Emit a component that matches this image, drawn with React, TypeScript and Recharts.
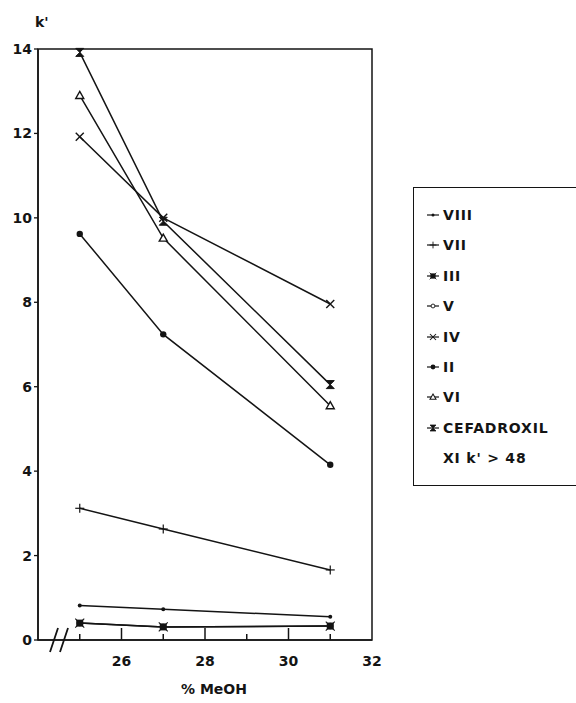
import React from "react";
import { LineChart, Line, XAxis, YAxis, ReferenceArea } from "recharts";

const meohPercent = [25, 27, 31];
const seriesNames = ["VIII", "VII", "III", "V", "IV", "II", "VI", "CEFADROXIL"];
const drawOrder = ["V", "VIII", "VII", "III", "IV", "II", "VI", "CEFADROXIL"];
const viii = [0.82, 0.73, 0.55];
const vii = [3.12, 2.63, 1.66];
const iii = [0.4, 0.31, 0.33];
const v = [0.4, 0.31, 0.33];
const iv = [11.92, 10.0, 7.96];
const ii = [9.62, 7.24, 4.15];
const vi = [12.9, 9.52, 5.55];
const cefadroxil = [13.92, 9.92, 6.05];
const yTicks = [0, 2, 4, 6, 8, 10, 12, 14];
const xTicks = [25, 26, 27, 28, 29, 30, 31, 32];
const xLabelTicks = [26, 28, 30, 32];
const legendNote = "XI k' > 48";

const seriesValues: Record<string, number[]> = {
  VIII: viii,
  VII: vii,
  III: iii,
  V: v,
  IV: iv,
  II: ii,
  VI: vi,
  CEFADROXIL: cefadroxil,
};

const data = meohPercent.map((x, i) => {
  const row: Record<string, number> = { x };
  seriesNames.forEach((n) => (row[n] = seriesValues[n][i]));
  return row;
});

const INK = "#141414";
const FONT = "'DejaVu Sans', 'Liberation Sans', sans-serif";

function Marker({ kind, cx, cy }: { kind: string; cx: number; cy: number }) {
  if (cx == null || cy == null) return null;
  switch (kind) {
    case "VIII":
      return <circle cx={cx} cy={cy} r={2} fill={INK} />;
    case "VII":
      return (
        <g stroke={INK} strokeWidth={1.2}>
          <line x1={cx - 4.5} y1={cy} x2={cx + 4.5} y2={cy} />
          <line x1={cx} y1={cy - 4.5} x2={cx} y2={cy + 4.5} />
        </g>
      );
    case "III":
      return (
        <g>
          <rect x={cx - 3.5} y={cy - 3.5} width={7} height={7} fill={INK} />
          <g stroke={INK} strokeWidth={1.1}>
            <line x1={cx - 4.5} y1={cy - 4.5} x2={cx + 4.5} y2={cy + 4.5} />
            <line x1={cx - 4.5} y1={cy + 4.5} x2={cx + 4.5} y2={cy - 4.5} />
          </g>
        </g>
      );
    case "V":
      return <circle cx={cx} cy={cy} r={2.6} fill="#fff" stroke={INK} strokeWidth={1.2} />;
    case "IV":
      return (
        <g stroke={INK} strokeWidth={1.4}>
          <line x1={cx - 4} y1={cy - 4} x2={cx + 4} y2={cy + 4} />
          <line x1={cx - 4} y1={cy + 4} x2={cx + 4} y2={cy - 4} />
        </g>
      );
    case "II":
      return <circle cx={cx} cy={cy} r={3.2} fill={INK} />;
    case "VI":
      return (
        <path
          d={`M${cx},${cy - 4} L${cx + 4},${cy + 3} L${cx - 4},${cy + 3} Z`}
          fill="#fff"
          stroke={INK}
          strokeWidth={1.4}
        />
      );
    case "CEFADROXIL":
      return (
        <path
          d={`M${cx - 4},${cy - 4} L${cx + 4},${cy - 4} L${cx - 4},${cy + 4} L${cx + 4},${cy + 4} Z`}
          fill={INK}
          stroke={INK}
          strokeWidth={1}
        />
      );
    default:
      return null;
  }
}

function XTick(props: any) {
  const { x, y, payload } = props;
  const val = payload.value as number;
  const major = xLabelTicks.includes(val);
  const len = major ? 12 : 6;
  return (
    <g>
      {val < 32 && (
        <path d={`M${x},${y}V${y - len}`} style={{ stroke: INK, strokeWidth: 1.5 }} fill="none" />
      )}
      {major && (
        <text
          x={x}
          y={y + 21}
          dy="0.355em"
          textAnchor="middle"
          fontFamily={FONT}
          fontWeight="bold"
          fontSize={14}
          fill={INK}
        >
          {val}
        </text>
      )}
    </g>
  );
}

export default function App() {
  return (
    <div
      style={{
        position: "absolute",
        left: 0,
        top: 0,
        width: 576,
        height: 703,
        overflow: "hidden",
        background: "#fff",
      }}
    >
      <LineChart
        width={576}
        height={703}
        data={data}
        margin={{ top: 49, right: 204, bottom: 0, left: 0 }}
      >
        <ReferenceArea
          x1={24}
          x2={32}
          y1={0}
          y2={14}
          fill="none"
          stroke={INK}
          strokeWidth={1.5}
          ifOverflow="visible"
        />
        <XAxis
          type="number"
          dataKey="x"
          domain={[24, 32]}
          ticks={xTicks}
          height={63}
          tickSize={0}
          tickMargin={0}
          tickLine={false}
          axisLine={{ stroke: INK, strokeWidth: 1.5 }}
          tick={<XTick />}
          interval={0}
          allowDataOverflow
          label={{
            content: () => (
              <text
                x={214}
                y={694}
                textAnchor="middle"
                fontFamily={FONT}
                fontWeight="bold"
                fontSize={14}
                fill={INK}
              >
                % MeOH
              </text>
            ),
          }}
        />
        <YAxis
          type="number"
          domain={[0, 14]}
          ticks={yTicks}
          width={38}
          tickSize={4}
          tickMargin={2}
          interval={0}
          axisLine={{ stroke: INK, strokeWidth: 1.5 }}
          tickLine={{ stroke: INK, strokeWidth: 1.3 }}
          tick={{ fontFamily: FONT, fontWeight: "bold", fontSize: 14, fill: INK }}
          label={{
            content: () => (
              <text
                x={35}
                y={27}
                fontFamily={FONT}
                fontWeight="bold"
                fontSize={14}
                fill={INK}
              >
                k'
              </text>
            ),
          }}
        />
        {drawOrder.map((name) => (
          <Line
            key={name}
            dataKey={name}
            name={name}
            stroke={INK}
            strokeWidth={1.5}
            isAnimationActive={false}
            type="linear"
            dot={(p: any) => <Marker key={`${name}-${p.index}`} kind={name} cx={p.cx} cy={p.cy} />}
            activeDot={false}
          />
        ))}
      </LineChart>

      <svg
        width={576}
        height={703}
        style={{ position: "absolute", left: 0, top: 0, pointerEvents: "none" }}
      >
        <line x1={50} y1={652} x2={58} y2={628} stroke={INK} strokeWidth={1.8} />
        <line x1={60} y1={652} x2={68} y2={628} stroke={INK} strokeWidth={1.8} />
      </svg>

      <div
        style={{
          position: "absolute",
          left: 413,
          top: 187,
          width: 190,
          height: 299,
          border: `1.5px solid ${INK}`,
          boxSizing: "border-box",
          fontFamily: FONT,
          fontWeight: "bold",
          fontSize: 14,
          letterSpacing: 0.8,
          color: INK,
        }}
      >
        {seriesNames.map((name, i) => (
          <div
            key={name}
            style={{
              position: "absolute",
              left: 12,
              top: 27 - 12 + i * 30.4,
              height: 24,
              display: "flex",
              alignItems: "center",
              whiteSpace: "nowrap",
            }}
          >
            <svg width={15} height={24} style={{ marginRight: 2 }}>
              <line x1={1} y1={12} x2={13} y2={12} stroke={INK} strokeWidth={1.2} />
              <g transform="translate(7,12) scale(0.75) translate(-7,-12)">
                <Marker kind={name} cx={7} cy={12} />
              </g>
            </svg>
            <span>{name}</span>
          </div>
        ))}
        <div
          style={{
            position: "absolute",
            left: 29,
            top: 27 - 12 + 8 * 30.4,
            height: 24,
            display: "flex",
            alignItems: "center",
            whiteSpace: "nowrap",
          }}
        >
          {legendNote}
        </div>
      </div>
    </div>
  );
}
